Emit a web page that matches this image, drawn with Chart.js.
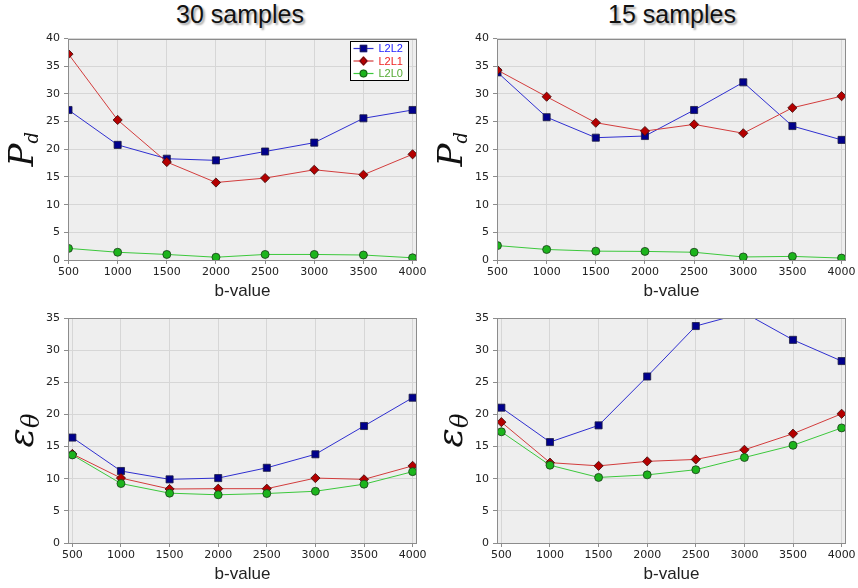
<!DOCTYPE html>
<html><head><meta charset="utf-8">
<script src="https://cdn.jsdelivr.net/npm/chart.js@4"></script>
<style>
html,body{margin:0;padding:0;background:#fff;width:858px;height:588px;overflow:hidden;position:relative;font-family:"Liberation Sans",Arial,sans-serif;}
.ttl{position:absolute;top:0;font-size:25px;color:#111;text-shadow:2px 2px 2px rgba(0,0,0,0.35);white-space:nowrap;transform:translateX(-50%);line-height:28px;}
canvas{position:absolute;}
</style></head><body>
<div class="ttl" style="left:240px">30 samples</div>
<div class="ttl" style="left:672px">15 samples</div>
<canvas id="c1" width="429" height="277" style="left:0;top:28px"></canvas>
<canvas id="c2" width="429" height="277" style="left:429px;top:28px"></canvas>
<canvas id="c3" width="429" height="283" style="left:0;top:305px"></canvas>
<canvas id="c4" width="429" height="283" style="left:429px;top:305px"></canvas>
<script>
// ---- data ----
const bValues = [500, 1000, 1500, 2000, 2500, 3000, 3500, 4000];
const seriesNames = ['L2L2', 'L2L1', 'L2L0'];
const pd30_L2L2 = [27.1, 20.8, 18.3, 18.0, 19.6, 21.2, 25.6, 27.1];
const pd30_L2L1 = [37.2, 25.3, 17.7, 14.0, 14.8, 16.3, 15.4, 19.1];
const pd30_L2L0 = [2.1, 1.4, 1.0, 0.5, 1.0, 1.0, 0.9, 0.4];
const pd15_L2L2 = [33.9, 25.8, 22.1, 22.4, 27.1, 32.1, 24.2, 21.7];
const pd15_L2L1 = [34.3, 29.5, 24.8, 23.3, 24.5, 22.9, 27.5, 29.6];
const pd15_L2L0 = [2.6, 1.9, 1.6, 1.55, 1.4, 0.55, 0.65, 0.35];
const et30_L2L2 = [16.4, 11.2, 9.9, 10.1, 11.7, 13.8, 18.2, 22.6];
const et30_L2L1 = [13.85, 10.1, 8.4, 8.45, 8.45, 10.1, 9.9, 12.0];
const et30_L2L0 = [13.7, 9.25, 7.75, 7.5, 7.7, 8.05, 9.15, 11.1];
const et15_L2L2 = [21.05, 15.7, 18.3, 25.9, 33.75, 35.8, 31.6, 28.3];
const et15_L2L1 = [18.8, 12.5, 12.0, 12.7, 13.0, 14.5, 17.0, 20.1];
const et15_L2L0 = [17.3, 12.1, 10.2, 10.6, 11.4, 13.3, 15.2, 17.9];
const pdTicksMax = 40;
const etTicksMax = 35;

const styles = [
  {line:'#2f2fd0', fill:'#00008c', edge:'#1a1a40', shape:'rect', r:5, text:'#2020ff'},
  {line:'#d23c3c', fill:'#b40000', edge:'#3a0a0a', shape:'rectRot', r:4.6, text:'#ee2222'},
  {line:'#3cc83c', fill:'#1cb41c', edge:'#1a3a1a', shape:'circle', r:4, text:'#55aa33'}
];

function makeDatasets(arrs){
  return arrs.map((arr, i) => ({
    label: seriesNames[i],
    data: arr.map((v, k) => ({x: bValues[k], y: v})),
    borderColor: styles[i].line,
    borderWidth: 1,
    pointStyle: styles[i].shape,
    pointRadius: styles[i].r,
    pointBackgroundColor: styles[i].fill,
    pointBorderColor: styles[i].edge,
    pointBorderWidth: 0.8,
    tension: 0,
    fill: false
  })).reverse();
}

function drawYTitle(ctx, kind, cx, cy){
  ctx.save();
  ctx.translate(cx, cy);
  ctx.rotate(-Math.PI/2);
  ctx.fillStyle = '#111';
  ctx.textBaseline = 'alphabetic';
  ctx.textAlign = 'left';
  let a, b, fa, fb, drop;
  if (kind === 'pd') { a='P'; b='d'; fa='italic 34px "DejaVu Serif"'; fb='italic 18px "DejaVu Serif"'; drop=5; }
  else { a='\u03B5'; b='\u03B8'; fa='italic 36px "DejaVu Serif"'; fb='italic 24px "DejaVu Serif"'; drop=6; }
  ctx.font = fa; const w1 = ctx.measureText(a).width;
  ctx.font = fb; const w2 = ctx.measureText(b).width;
  const x0 = -(w1 + w2) / 2;
  ctx.font = fa; ctx.fillText(a, x0, 0);
  ctx.font = fb; ctx.fillText(b, x0 + w1, drop);
  ctx.restore();
}

function drawLegend(ctx){
  ctx.save();
  const x = 350.5, y = 13.5, w = 58, h = 39;
  ctx.fillStyle = '#fff'; ctx.fillRect(x, y, w, h);
  ctx.strokeStyle = '#000'; ctx.lineWidth = 1; ctx.strokeRect(x, y, w, h);
  ctx.font = '11px "Liberation Sans", Arial, sans-serif';
  ctx.textBaseline = 'middle'; ctx.textAlign = 'left';
  for (let i = 0; i < 3; i++) {
    const s = styles[i];
    const yy = y + 7 + i * 12.5;
    ctx.strokeStyle = s.line; ctx.lineWidth = 1.2;
    ctx.beginPath(); ctx.moveTo(x + 3, yy); ctx.lineTo(x + 23, yy); ctx.stroke();
    Chart.helpers.drawPoint(ctx, {pointStyle: s.shape, radius: s.r - 0.5, borderWidth: 0.8}, x + 13, yy);
    ctx.fillStyle = s.fill; ctx.strokeStyle = s.edge; ctx.lineWidth = 0.8;
    ctx.beginPath();
    if (s.shape === 'rect') { const q = (s.r-0.5)*Math.SQRT1_2; ctx.rect(x+13-q, yy-q, 2*q, 2*q); }
    else if (s.shape === 'rectRot') { const q = s.r-0.5; ctx.moveTo(x+13, yy-q); ctx.lineTo(x+13+q*0.8, yy); ctx.lineTo(x+13, yy+q); ctx.lineTo(x+13-q*0.8, yy); ctx.closePath(); }
    else { ctx.arc(x+13, yy, s.r-0.5, 0, Math.PI*2); }
    ctx.fill(); ctx.stroke();
    ctx.fillStyle = s.text;
    ctx.fillText(seriesNames[i], x + 28, yy + 0.5);
  }
  ctx.restore();
}

const panelPlugin = {
  id: 'panel',
  beforeDraw(chart){
    const {ctx, chartArea: a} = chart;
    ctx.save(); ctx.fillStyle = '#eeeeee';
    ctx.fillRect(a.left, a.top, a.right - a.left, a.bottom - a.top);
    ctx.restore();
  },
  afterDraw(chart, args, opts){
    const {ctx, chartArea: a} = chart;
    ctx.save();
    ctx.strokeStyle = '#8c8c8c'; ctx.lineWidth = 1;
    ctx.strokeRect(Math.round(a.left) + 0.5, Math.round(a.top) + 0.5, Math.round(a.right - a.left) - 1, Math.round(a.bottom - a.top));
    ctx.restore();
    drawYTitle(ctx, opts.kind, opts.tx, (a.top + a.bottom) / 2);
    if (opts.legend) drawLegend(ctx);
  }
};

function makeChart(id, arrs, ymax, kind, legend, xmin, topPad){
  const canvas = document.getElementById(id);
  return new Chart(canvas, {
    type: 'line',
    data: { datasets: makeDatasets(arrs) },
    plugins: [panelPlugin],
    options: {
      responsive: false,
      animation: false,
      events: [],
      layout: { padding: { top: topPad, right: 12, left: 0, bottom: 0 } },
      plugins: {
        legend: { display: false },
        tooltip: { enabled: false },
        panel: { kind: kind, legend: legend, tx: kind === 'pd' ? 33 : 33 }
      },
      scales: {
        x: {
          type: 'linear', min: xmin, max: 4045,
          afterBuildTicks: s => { s.ticks = bValues.map(v => ({value: v})); },
          afterFit: s => { s.height = 45; },
          ticks: { callback: v => String(v), font: {family: '"DejaVu Sans"', size: 11}, color: '#222', padding: 2, maxRotation: 0, autoSkip: false },
          grid: { color: '#d6d6d6', lineWidth: 1, tickColor: '#8c8c8c', tickLength: 4 },
          border: { display: false },
          title: { display: true, text: 'b-value', font: {family: '"Liberation Sans"', size: 17}, color: '#222', padding: {top: 2, bottom: 3} }
        },
        y: {
          min: 0, max: ymax,
          afterFit: s => { s.width = 68; },
          ticks: { stepSize: 5, font: {family: '"DejaVu Sans"', size: 11}, color: '#222', padding: 4 },
          grid: { color: '#d6d6d6', lineWidth: 1, tickColor: '#8c8c8c', tickLength: 4 },
          border: { display: false }
        }
      }
    }
  });
}

makeChart('c1', [pd30_L2L2, pd30_L2L1, pd30_L2L0], pdTicksMax, 'pd', true, 495, 8);
makeChart('c2', [pd15_L2L2, pd15_L2L1, pd15_L2L0], pdTicksMax, 'pd', false, 495, 8);
makeChart('c3', [et30_L2L2, et30_L2L1, et30_L2L0], etTicksMax, 'et', false, 455, 13);
makeChart('c4', [et15_L2L2, et15_L2L1, et15_L2L0], etTicksMax, 'et', false, 455, 13);
</script>
</body></html>
